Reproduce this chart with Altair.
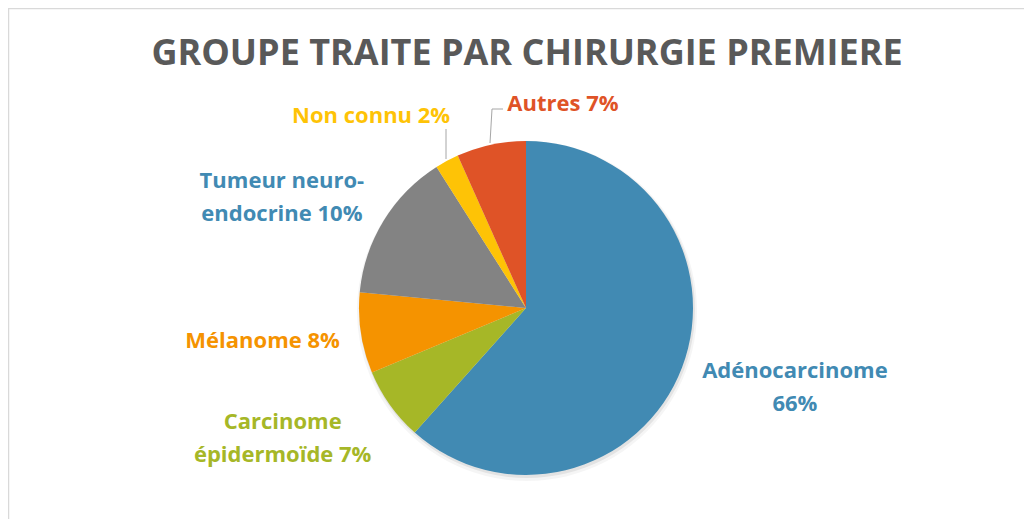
import altair as alt
import pandas as pd

# ---- data ----
categories = ["Adénocarcinome", "Carcinome épidermoïde", "Mélanome",
              "Tumeur neuro-endocrine", "Non connu", "Autres"]
shares = [61.6, 7.1, 7.8, 14.5, 2.3, 6.7]          # slice sizes as drawn
label_texts = ["Adénocarcinome\n66%", "Carcinome\népidermoïde 7%", "Mélanome 8%",
               "Tumeur neuro-\nendocrine 10%", "Non connu 2%", "Autres 7%"]
title_text = "GROUPE TRAITE PAR CHIRURGIE PREMIERE"

# ---- styles ----
slice_colors = ["#418AB3", "#A6B727", "#F59300", "#838383", "#FEC306", "#DF5327"]
label_colors = ["#418AB3", "#A6B727", "#F59300", "#418AB3", "#FEC306", "#DF5327"]
FONT = "Open Sans"
W, H = 1016, 511
CX, CY, R = 518, 300, 167
LABEL_R = 230
# per-label offsets from the anchor on the slice's mid-angle
label_offsets = [(54, -19), (-56, -19), (-36, -2), (-48, -7), (-46, 11), (85, 21)]

df = pd.DataFrame({
    "idx": list(range(len(categories))),
    "category": categories,
    "share": shares,
    "label": label_texts,
})

theta_scale = alt.Scale(nice=False, zero=True)
base = alt.Chart(df)

shadow1 = base.mark_arc(radius=R + 3, color="#000000", opacity=0.04).encode(
    theta=alt.Theta("share:Q", stack=True, scale=theta_scale),
    order=alt.Order("idx:Q"),
    x=alt.value(CX + 1), y=alt.value(CY + 3),
)
shadow2 = base.mark_arc(radius=R + 1, color="#000000", opacity=0.07).encode(
    theta=alt.Theta("share:Q", stack=True, scale=theta_scale),
    order=alt.Order("idx:Q"),
    x=alt.value(CX + 1), y=alt.value(CY + 2),
)

pie = base.mark_arc(radius=R).encode(
    theta=alt.Theta("share:Q", stack=True, scale=theta_scale),
    order=alt.Order("idx:Q"),
    color=alt.Color("category:N", scale=alt.Scale(domain=categories, range=slice_colors),
                    legend=None),
    x=alt.value(CX), y=alt.value(CY),
)

lbl_base = base.transform_window(
    cum="sum(share)", sort=[alt.SortField("idx")], frame=[None, 0]
).transform_calculate(mid="datum.cum - datum.share / 2")

label_layers = []
for i, (dx, dy) in enumerate(label_offsets):
    label_layers.append(
        lbl_base.transform_filter(alt.datum.idx == i).mark_text(
            radius=LABEL_R, dx=dx, dy=dy, font=FONT, fontSize=22, fontWeight="bold",
            color=label_colors[i], lineBreak="\n", lineHeight=33,
            align="center", baseline="middle",
        ).encode(
            theta=alt.Theta("mid:Q", scale=theta_scale),
            text="label:N",
            x=alt.value(CX), y=alt.value(CY),
        )
    )

one = alt.Chart(pd.DataFrame({"k": [0]}))
title = one.mark_text(font=FONT, fontSize=36, fontWeight="bold", color="#595959",
                      align="center", baseline="middle").encode(
    x=alt.value(519), y=alt.value(46), text=alt.value(title_text))

leader_style = dict(color="#A6A6A6", strokeWidth=1)
lead1 = one.mark_rule(**leader_style).encode(
    x=alt.value(438), y=alt.value(121), x2=alt.value(438), y2=alt.value(151))
lead2a = one.mark_rule(**leader_style).encode(
    x=alt.value(484), y=alt.value(101), x2=alt.value(495), y2=alt.value(101))
lead2b = one.mark_rule(**leader_style).encode(
    x=alt.value(484), y=alt.value(101), x2=alt.value(482), y2=alt.value(135))

border_top = one.mark_rule(color="#D9D9D9", strokeWidth=1.5).encode(
    x=alt.value(0), y=alt.value(0.5), x2=alt.value(W), y2=alt.value(0.5))
border_left = one.mark_rule(color="#D9D9D9", strokeWidth=1.5).encode(
    x=alt.value(0.5), y=alt.value(0), x2=alt.value(0.5), y2=alt.value(H))

chart = alt.layer(
    border_top, border_left, shadow1, shadow2, pie, *label_layers,
    title, lead1, lead2a, lead2b,
).properties(
    width=W, height=H, padding=0,
    autosize=alt.AutoSizeParams(type="none"),
    background="white",
).configure_view(stroke=None)

chart.save("out.html", embed_options={"renderer": "svg", "actions": False})
